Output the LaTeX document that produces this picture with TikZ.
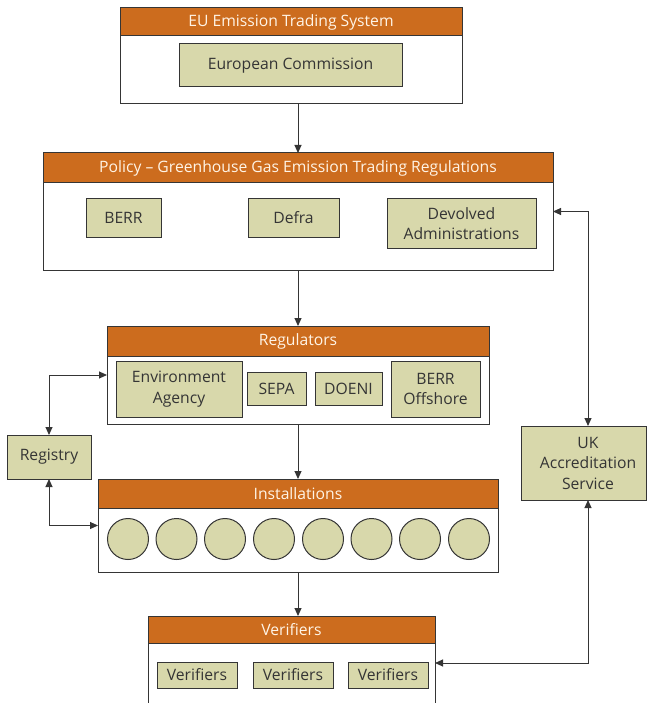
\documentclass[tikz,border=0pt]{standalone}
\usepackage{fontspec}
\setmainfont{Open Sans}
\usetikzlibrary{arrows.meta}
\definecolor{hdr}{HTML}{CC6C1E}
\definecolor{khaki}{HTML}{D8D8AB}
\definecolor{ln}{HTML}{353535}
\definecolor{hdrtxt}{HTML}{FFF4E6}
\begin{document}
\begin{tikzpicture}[x=1pt,y=-1pt,
  every node/.style={inner sep=0pt, outer sep=0pt, font=\fontsize{15.7}{20.5}\selectfont, text=ln, align=center},
  outerbox/.style={draw=ln, line width=1pt, fill=white, rectangle},
  hdrbox/.style={draw=ln, line width=1pt, fill=hdr, text=hdrtxt, rectangle},
  kbox/.style={draw=ln, line width=1pt, fill=khaki, rectangle},
  circ/.style={draw=ln, line width=1pt, fill=khaki, circle, minimum size=41pt},
  arr/.style={draw=ln, line width=1pt, -{Triangle[length=8pt,width=7pt]}},
  darr/.style={draw=ln, line width=1pt, {Triangle[length=8pt,width=7pt]}-{Triangle[length=8pt,width=7pt]}}
]
\useasboundingbox (0,0) rectangle (647,703);
\begin{scope}
\clip (0,0) rectangle (647,703);
% EU
\node[outerbox, minimum width=342pt, minimum height=96pt] (eu) at (291,56) {};
\node[hdrbox, minimum width=342pt, minimum height=28pt] (euh) at (291,22) {EU Emission Trading System};
\node[kbox, minimum width=223pt, minimum height=43pt] (ec) at (290.5,65.5) {European Commission};
% Policy
\node[outerbox, minimum width=510pt, minimum height=117pt] (policy) at (298,211.5) {};
\node[hdrbox, minimum width=510pt, minimum height=30pt] (policyh) at (298,168) {Policy – Greenhouse Gas Emission Trading Regulations};
\node[kbox, minimum width=75pt, minimum height=38pt] (berr) at (123.5,218) {BERR};
\node[kbox, minimum width=91pt, minimum height=38pt] (defra) at (293.5,218) {Defra};
\node[kbox, minimum width=149pt, minimum height=49pt] (dev) at (461.5,223.5) {Devolved\\Administrations};
% Regulators
\node[outerbox, minimum width=382pt, minimum height=98pt] (reg) at (298,375) {};
\node[hdrbox, minimum width=382pt, minimum height=30pt] (regh) at (298,341) {Regulators};
\node[kbox, minimum width=126pt, minimum height=56pt] (envag) at (179,389) {Environment\\Agency};
\node[kbox, minimum width=59pt, minimum height=33pt] (sepa) at (276.5,388.5) {SEPA};
\node[kbox, minimum width=67pt, minimum height=33pt] (doeni) at (348.5,388.5) {DOENI};
\node[kbox, minimum width=89pt, minimum height=56pt] (berroff) at (435.5,389) {BERR\\Offshore};
% Registry
\node[kbox, minimum width=84pt, minimum height=44pt] (registry) at (49,457) {Registry};
% Installations
\node[outerbox, minimum width=400pt, minimum height=93pt] (inst) at (298,525.5) {};
\node[hdrbox, minimum width=400pt, minimum height=29pt] (insth) at (298,493.5) {Installations};
\foreach \i/\x in {1/128,2/176.5,3/225,4/274,5/323,6/371.5,7/420,8/469}
  \node[circ] (c\i) at (\x,539) {};
% Verifiers
\node[outerbox, minimum width=287pt, minimum height=94pt] (ver) at (291.5,663) {};
\node[hdrbox, minimum width=287pt, minimum height=27pt] (verh) at (291.5,629.5) {Verifiers};
\node[kbox, minimum width=80pt, minimum height=26pt] (v1) at (197,675) {Verifiers};
\node[kbox, minimum width=80pt, minimum height=26pt] (v2) at (293,675) {Verifiers};
\node[kbox, minimum width=80pt, minimum height=26pt] (v3) at (388,675) {Verifiers};
% UKAS
\node[kbox, minimum width=125.5pt, minimum height=74pt] (ukas) at (583.75,463) {};
\node (ukt) at (588,463) {UK\\Accreditation\\Service};
\end{scope}
% connectors
\draw[arr] (eu.south -| policy.north) -- (policy.north);
\draw[arr] (policy.south) -- (reg.north);
\draw[arr] (reg.south) -- (inst.north);
\draw[arr] (inst.south) -- (inst.south |- ver.north);
\draw[darr] (registry.north) |- (reg.west);
\draw[darr] (registry.south) |- (inst.west);
\draw[darr] (ukt |- ukas.north) |- (policy.east);
\draw[darr] (ukt |- ukas.south) |- (ver.east);
\end{tikzpicture}
\end{document}
